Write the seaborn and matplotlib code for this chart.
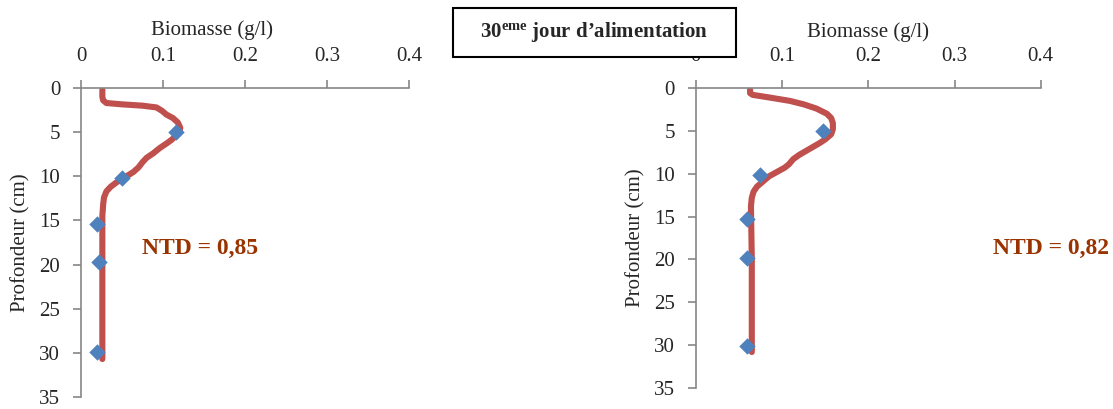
import matplotlib
matplotlib.use('Agg')
import matplotlib.pyplot as plt
from matplotlib.patches import Rectangle
import seaborn as sns

# Data (biomass in g/l, depth in cm)
left_curve_x = [0.026, 0.026, 0.027, 0.031, 0.050, 0.075, 0.092, 0.099, 0.104, 0.112,
                0.118, 0.121, 0.120, 0.116, 0.110, 0.104, 0.096, 0.088, 0.080, 0.075,
                0.070, 0.064, 0.052, 0.043, 0.036, 0.031, 0.028, 0.027, 0.026, 0.026,
                0.026]
left_curve_y = [0.2, 1.0, 1.4, 1.7, 1.85, 2.0, 2.2, 2.6, 3.0, 3.4,
                3.9, 4.5, 5.0, 5.4, 5.9, 6.3, 6.8, 7.4, 7.9, 8.4,
                9.0, 9.5, 10.2, 10.7, 11.2, 11.7, 12.4, 13.2, 14.5, 20.0,
                30.7]
left_pts_x = [0.116, 0.050, 0.020, 0.022, 0.019]
left_pts_y = [5.0, 10.2, 15.4, 19.7, 29.9]

right_curve_x = [0.063, 0.063, 0.066, 0.085, 0.109, 0.125, 0.140, 0.152, 0.157, 0.159,
                 0.159, 0.157, 0.150, 0.144, 0.132, 0.120, 0.113, 0.108, 0.103, 0.094,
                 0.085, 0.078, 0.071, 0.067, 0.065, 0.064, 0.065, 0.065]
right_curve_y = [0.2, 0.6, 0.8, 1.1, 1.5, 1.9, 2.4, 3.0, 3.5, 4.1,
                 4.8, 5.4, 6.0, 6.4, 7.1, 7.8, 8.3, 8.9, 9.3, 9.8,
                 10.3, 10.9, 11.5, 12.1, 12.8, 13.8, 20.0, 30.8]
right_pts_x = [0.147, 0.075, 0.059, 0.059, 0.059]
right_pts_y = [5.0, 10.1, 15.3, 19.8, 30.1]

ntd_labels = ['NTD = 0,85', 'NTD = 0,82']
x_ticks = [0, 0.1, 0.2, 0.3, 0.4]
x_tick_labels = ['0', '0.1', '0.2', '0.3', '0.4']
y_ticks = [0, 5, 10, 15, 20, 25, 30, 35]

sns.set_style('white')
plt.rcParams['font.family'] = ['Liberation Serif', 'DejaVu Serif']
plt.rcParams['mathtext.fontset'] = 'custom'
plt.rcParams['mathtext.rm'] = 'Liberation Serif:bold'
plt.rcParams['mathtext.it'] = 'Liberation Serif:bold'
plt.rcParams['mathtext.bf'] = 'Liberation Serif:bold'

line_color = '#C0504D'
point_color = '#4F81BD'
axis_color = '#868686'
ntd_color = '#993300'

W, H = 1113, 409
fig = plt.figure(figsize=(W / 100, H / 100), dpi=100)
ax1 = fig.add_axes([0.0728, 0.0293, 0.2947, 0.7555])
ax2 = fig.add_axes([0.6251, 0.0513, 0.3100, 0.7335])

panels = [
    (ax1, left_curve_x, left_curve_y, left_pts_x, left_pts_y, 0.40, 1.171),
    (ax2, right_curve_x, right_curve_y, right_pts_x, right_pts_y, 0.50, 1.170),
]

for ax, cx, cy, px, py, lab_x, lab_y in panels:
    sns.lineplot(x=cx, y=cy, sort=False, estimator=None, ax=ax,
                 color=line_color, linewidth=4.4, solid_capstyle='round',
                 solid_joinstyle='round')
    sns.scatterplot(x=px, y=py, ax=ax, marker='D', s=70, color=point_color,
                    edgecolor=point_color, linewidth=0, zorder=3)
    ax.set_xlim(0, 0.4)
    ax.set_ylim(35, 0)
    ax.set_xticks(x_ticks)
    ax.set_xticklabels(x_tick_labels)
    ax.set_yticks(y_ticks)
    ax.xaxis.tick_top()
    ax.xaxis.set_label_position('top')
    ax.set_xlabel('Biomasse (g/l)', fontsize=15)
    ax.xaxis.set_label_coords(lab_x, lab_y)
    ax.set_ylabel('Profondeur (cm)', fontsize=15, labelpad=6)
    ax.tick_params(axis='x', which='both', top=True, bottom=False, length=6,
                   width=1.2, color=axis_color, labelsize=15, pad=10)
    ax.tick_params(axis='y', which='both', left=True, length=6,
                   width=1.2, color=axis_color, labelsize=15, pad=9)
    for side in ['right', 'bottom']:
        ax.spines[side].set_visible(False)
    for side in ['left', 'top']:
        ax.spines[side].set_color(axis_color)
        ax.spines[side].set_linewidth(1.2)
    ax.patch.set_alpha(0)

# NTD annotations
fig.text(142 / W, 1 - 248 / H, ntd_labels[0], fontsize=17, fontweight='bold',
         color=ntd_color, ha='left', va='center')
fig.text(993 / W, 1 - 248 / H, ntd_labels[1], fontsize=17, fontweight='bold',
         color=ntd_color, ha='left', va='center')

# Boxed title
fig.patches.append(Rectangle((453 / W, 1 - 57 / H), (736 - 453) / W, (57 - 8) / H,
                             transform=fig.transFigure, facecolor='white',
                             edgecolor='black', linewidth=1.5, zorder=9))
fig.text(594 / W, 1 - 32 / H, '30$^{\\mathbf{eme}}$ jour d\u2019alimentation',
         fontsize=15, fontweight='bold', ha='center', va='center', zorder=10)

fig.savefig('out.png', dpi=100)
